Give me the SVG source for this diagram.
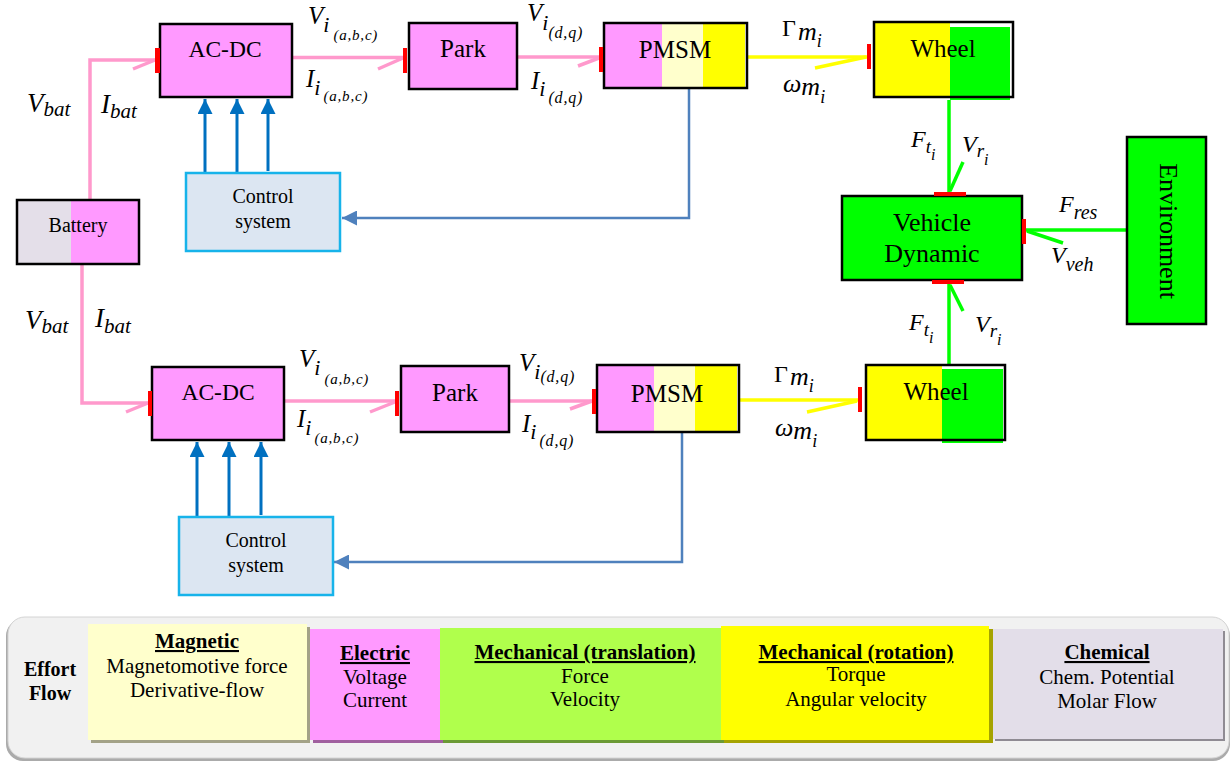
<svg xmlns="http://www.w3.org/2000/svg" width="1231" height="761" viewBox="0 0 1231 761">
<defs>
<style>
text{font-family:'Liberation Serif','Times New Roman',Times,'DejaVu Serif','Noto Serif',serif;fill:#000}
.m{font-style:italic}
.sub{letter-spacing:0.8px}
.box{stroke:#000;stroke-width:2.5;fill:none}
.pk{fill:#ff99ff}
.ly{fill:#ffffcc}
.yl{fill:#ffff00}
.gr{fill:#00ff00}
.port{fill:#ff0000}
.ctl{fill:#dce6f2;stroke:#17b3ea;stroke-width:2.5}
.pl{stroke:#ff99cc;stroke-width:3.5;fill:none}
.yw{stroke:#ffff00;stroke-width:3.5;fill:none}
.gw{stroke:#00ff00;stroke-width:3.5;fill:none}
.bl{stroke:#0070c0;stroke-width:3;fill:none}
.fb{stroke:#4f81bd;stroke-width:2.5;fill:none}
.lt{font-size:21px}
.lb{font-size:21px;font-weight:bold;text-decoration:underline}
</style>
<marker id="ah" viewBox="0 0 10 10" refX="10" refY="5" markerWidth="5" markerHeight="5" markerUnits="strokeWidth" orient="auto">
<path d="M0,0 L10,5 L0,10 z" fill="#0070c0"/>
</marker>
<marker id="fh" viewBox="0 0 10 10" refX="10" refY="5" markerWidth="6" markerHeight="6" markerUnits="strokeWidth" orient="auto">
<path d="M0,0 L10,5 L0,10 z" fill="#4f81bd"/>
</marker>
</defs>
<rect width="1231" height="761" fill="#fff"/>

<g id="connectors">
<path class="pl" d="M90,200 V60 H155"/><path class="pl" d="M133,69 L155,60"/>
<path class="pl" d="M82,264 V403 H148"/><path class="pl" d="M126,412 L148,403"/>
<path class="pl" d="M292,57.5 H403"/><path class="pl" d="M378,69 L403,58"/>
<path class="pl" d="M517,57 H599"/><path class="pl" d="M578,66 L599,58"/>
<path class="pl" d="M284,401 H395"/><path class="pl" d="M370,412 L395,402"/>
<path class="pl" d="M509,401 H592"/><path class="pl" d="M570,409 L592,401"/>
<path class="yw" d="M747,57 H867"/><path class="yw" d="M815,68 L866,57"/>
<path class="yw" d="M739,400 H858"/><path class="yw" d="M807,412 L857,401"/>
<path class="gw" d="M949,100 V192"/><path class="gw" d="M963,162 L950,191"/>
<path class="gw" d="M1127,230 H1026"/><path class="gw" d="M1063,243 L1027,231"/>
<path class="gw" d="M949,365 V284"/><path class="gw" d="M963,311 L950,285"/>
<path class="bl" d="M205,173 V99" marker-end="url(#ah)"/>
<path class="bl" d="M237,173 V99" marker-end="url(#ah)"/>
<path class="bl" d="M268,171 V99" marker-end="url(#ah)"/>
<path class="bl" d="M197,517 V442" marker-end="url(#ah)"/>
<path class="bl" d="M229,517 V442" marker-end="url(#ah)"/>
<path class="bl" d="M261,515 V442" marker-end="url(#ah)"/>
<path class="fb" d="M689,88 V218 H342" marker-end="url(#fh)"/>
<path class="fb" d="M682,432 V562 H334" marker-end="url(#fh)"/>
</g>

<g id="battery">
<rect x="17" y="200" width="54" height="64" fill="#e4dfe9"/>
<rect x="71" y="200" width="68" height="64" class="pk"/>
<rect x="17" y="200" width="122" height="64" class="box"/>
<text x="78" y="232" font-size="20" text-anchor="middle">Battery</text>
</g>

<g id="acdc1">
<rect x="160" y="24" width="132" height="73" class="pk"/>
<rect x="160" y="24" width="132" height="73" class="box"/>
<rect x="155" y="48" width="5" height="25" class="port"/>
<text x="225" y="57" font-size="23.5" text-anchor="middle">AC-DC</text>
</g>
<g id="park1">
<rect x="409" y="23" width="108" height="66" class="pk"/>
<rect x="409" y="23" width="108" height="66" class="box"/>
<rect x="403" y="48" width="4" height="25" class="port"/>
<text x="463" y="57" font-size="25" text-anchor="middle">Park</text>
</g>
<g id="pmsm1">
<rect x="604" y="23" width="58" height="65" class="pk"/>
<rect x="662" y="23" width="41" height="65" class="ly"/>
<rect x="703" y="23" width="42" height="65" class="yl"/>
<rect x="604" y="23" width="143" height="65" class="box"/>
<rect x="599" y="47" width="4" height="25" class="port"/>
<text x="675" y="58" font-size="25" text-anchor="middle">PMSM</text>
</g>
<g id="wheel1">
<rect x="874" y="22" width="76" height="75" class="yl"/>
<rect x="950" y="27" width="60" height="73" class="gr"/>
<rect x="874" y="22" width="139" height="75" class="box"/>
<rect x="867" y="44" width="4" height="25" class="port"/>
<text x="943" y="57" font-size="25" text-anchor="middle">Wheel</text>
</g>
<g id="control1">
<rect x="186" y="173" width="154" height="78" class="ctl"/>
<text x="263" y="203" font-size="20" text-anchor="middle">Control</text>
<text x="263" y="228" font-size="20" text-anchor="middle">system</text>
</g>

<g id="vehicle-dynamic">
<rect x="842" y="196" width="180" height="84" class="gr"/>
<rect x="842" y="196" width="180" height="84" class="box"/>
<rect x="934" y="192" width="32" height="4" class="port"/>
<rect x="1022" y="219" width="4" height="25" class="port"/>
<rect x="932" y="280" width="32" height="4" class="port"/>
<text x="932" y="231" font-size="26" text-anchor="middle">Vehicle</text>
<text x="932" y="262" font-size="26" text-anchor="middle">Dynamic</text>
</g>
<g id="environment">
<rect x="1127" y="137" width="79" height="187" class="gr"/>
<rect x="1127" y="137" width="79" height="187" class="box"/>
<text x="0" y="0" font-size="26" text-anchor="middle" transform="translate(1160,231) rotate(90)">Environment</text>
</g>

<g id="acdc2">
<rect x="152" y="367" width="132" height="73" class="pk"/>
<rect x="152" y="367" width="132" height="73" class="box"/>
<rect x="148" y="391" width="4" height="25" class="port"/>
<text x="218" y="400" font-size="23.5" text-anchor="middle">AC-DC</text>
</g>
<g id="park2">
<rect x="401" y="366" width="108" height="66" class="pk"/>
<rect x="401" y="366" width="108" height="66" class="box"/>
<rect x="395" y="391" width="4" height="25" class="port"/>
<text x="455" y="401" font-size="25" text-anchor="middle">Park</text>
</g>
<g id="pmsm2">
<rect x="597" y="365" width="57" height="67" class="pk"/>
<rect x="654" y="365" width="41" height="67" class="ly"/>
<rect x="695" y="365" width="42" height="67" class="yl"/>
<rect x="597" y="365" width="142" height="67" class="box"/>
<rect x="592" y="389" width="4" height="25" class="port"/>
<text x="667" y="402" font-size="25" text-anchor="middle">PMSM</text>
</g>
<g id="wheel2">
<rect x="866" y="365" width="76" height="75" class="yl"/>
<rect x="942" y="369" width="61" height="74" class="gr"/>
<rect x="866" y="365" width="139" height="75" class="box"/>
<rect x="858" y="387" width="4" height="25" class="port"/>
<text x="936" y="400" font-size="25" text-anchor="middle">Wheel</text>
</g>
<g id="control2">
<rect x="179" y="517" width="154" height="78" class="ctl"/>
<text x="256" y="547" font-size="20" text-anchor="middle">Control</text>
<text x="256" y="572" font-size="20" text-anchor="middle">system</text>
</g>

<g id="labels">
<text class="m" x="27" y="112" font-size="27">V<tspan font-size="21" dy="4">bat</tspan></text>
<text class="m" x="101" y="113" font-size="27">I<tspan font-size="21" dy="5">bat</tspan></text>
<text class="m" x="25" y="329" font-size="27">V<tspan font-size="21" dy="4">bat</tspan></text>
<text class="m" x="95" y="327" font-size="27">I<tspan font-size="21" dy="6">bat</tspan></text>

<text class="m" x="308" y="24" font-size="25">V<tspan font-size="22" dy="8">i</tspan><tspan class="sub" font-size="15" dx="4" dy="8">(a,b,c)</tspan></text>
<text class="m" x="306" y="87" font-size="25">I<tspan font-size="22" dy="8">i</tspan><tspan class="sub" font-size="15" dx="3" dy="6">(a,b,c)</tspan></text>
<text class="m" x="527" y="21" font-size="25">V<tspan font-size="22" dy="9">i</tspan><tspan class="sub" font-size="16" dy="8">(d,q)</tspan></text>
<text class="m" x="531" y="89" font-size="25">I<tspan font-size="22" dy="7">i</tspan><tspan class="sub" font-size="16" dx="3" dy="7">(d,q)</tspan></text>
<text x="782" y="36" font-size="24">Γ<tspan class="m" font-size="26" dx="2" dy="4">m</tspan><tspan class="m" font-size="18" dy="7">i</tspan></text>
<text class="m" x="783" y="92" font-size="26">ω<tspan font-size="26" dy="3">m</tspan><tspan font-size="18" dy="8">i</tspan></text>

<text class="m" x="299" y="367" font-size="25">V<tspan font-size="22" dy="8">i</tspan><tspan class="sub" font-size="15" dx="4" dy="9">(a,b,c)</tspan></text>
<text class="m" x="297" y="427" font-size="25">I<tspan font-size="22" dy="8">i</tspan><tspan class="sub" font-size="15" dx="3" dy="8">(a,b,c)</tspan></text>
<text class="m" x="519" y="371" font-size="25">V<tspan font-size="22" dy="8">i</tspan><tspan class="sub" font-size="16" dy="3">(d,q)</tspan></text>
<text class="m" x="522" y="432" font-size="25">I<tspan font-size="22" dy="7">i</tspan><tspan class="sub" font-size="16" dx="3" dy="7">(d,q)</tspan></text>
<text x="774" y="382" font-size="24">Γ<tspan class="m" font-size="26" dx="2" dy="3">m</tspan><tspan class="m" font-size="18" dy="7">i</tspan></text>
<text class="m" x="775" y="436" font-size="26">ω<tspan font-size="26" dy="3">m</tspan><tspan font-size="18" dy="8">i</tspan></text>

<text class="m" x="911" y="147" font-size="24">F<tspan font-size="19" dy="6">t</tspan><tspan font-size="16" dy="7">i</tspan></text>
<text class="m" x="962" y="152" font-size="24">V<tspan font-size="19" dy="5">r</tspan><tspan font-size="16" dy="8">i</tspan></text>
<text class="m" x="909" y="330" font-size="24">F<tspan font-size="19" dy="6">t</tspan><tspan font-size="16" dy="7">i</tspan></text>
<text class="m" x="975" y="332" font-size="24">V<tspan font-size="19" dy="5">r</tspan><tspan font-size="16" dy="8">i</tspan></text>
<text class="m" x="1059" y="212" font-size="24">F<tspan font-size="20" dy="7">res</tspan></text>
<text class="m" x="1051" y="263" font-size="24">V<tspan font-size="20" dy="8">veh</tspan></text>
</g>

<g id="legend">
<rect x="6" y="619" width="1224" height="142" rx="17" fill="#ababab"/>
<rect x="8" y="617" width="1221" height="141" rx="17" fill="#f1f1f1" stroke="#d4d4d4" stroke-width="1"/>
<text x="50" y="676" font-size="20" font-weight="bold" text-anchor="middle">Effort</text>
<text x="50" y="700" font-size="20" font-weight="bold" text-anchor="middle">Flow</text>

<rect x="91" y="627" width="219" height="116" fill="#a3a287"/>
<rect x="88" y="624" width="219" height="116" fill="#ffffcc"/>
<text class="lb" x="197" y="648" text-anchor="middle">Magnetic</text>
<text class="lt" x="197" y="673" text-anchor="middle">Magnetomotive force</text>
<text class="lt" x="197" y="697" text-anchor="middle">Derivative-flow</text>

<rect x="313" y="632" width="131" height="111" fill="#a0609f"/>
<rect x="310" y="629" width="131" height="111" fill="#ff99ff"/>
<text class="lb" x="375" y="660" text-anchor="middle">Electric</text>
<text class="lt" x="375" y="684" text-anchor="middle">Voltage</text>
<text class="lt" x="375" y="707" text-anchor="middle">Current</text>

<rect x="443" y="631" width="281" height="112" fill="#6b9a35"/>
<rect x="440" y="628" width="281" height="112" fill="#b0ff4c"/>
<text class="lb" x="585" y="659" text-anchor="middle">Mechanical (translation)</text>
<text class="lt" x="585" y="683" text-anchor="middle">Force</text>
<text class="lt" x="585" y="706" text-anchor="middle">Velocity</text>

<rect x="724" y="629" width="269" height="114" fill="#a5a300"/>
<rect x="721" y="626" width="268" height="114" fill="#ffff00"/>
<text class="lb" x="856" y="659" text-anchor="middle">Mechanical (rotation)</text>
<text class="lt" x="856" y="681" text-anchor="middle">Torque</text>
<text class="lt" x="856" y="706" text-anchor="middle">Angular velocity</text>

<rect x="995" y="631" width="230" height="110" fill="#8f8b93"/>
<rect x="993" y="629" width="230" height="110" fill="#e3dee9"/>
<text class="lb" x="1107" y="659" text-anchor="middle">Chemical</text>
<text class="lt" x="1107" y="684" text-anchor="middle">Chem. Potential</text>
<text class="lt" x="1107" y="708" text-anchor="middle">Molar Flow</text>
</g>
</svg>
